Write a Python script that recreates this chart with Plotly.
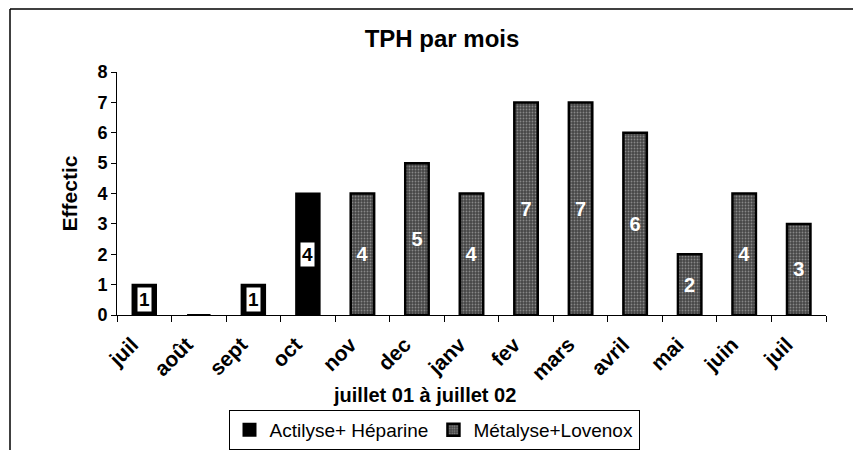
import plotly.graph_objects as go

categories = ["juil01", "août", "sept", "oct", "nov", "dec", "janv", "fev", "mars", "avril", "mai", "juin", "juil02"]
tick_labels = ["juil", "août", "sept", "oct", "nov", "dec", "janv", "fev", "mars", "avril", "mai", "juin", "juil"]
actilyse = [1, 0, 1, 4, None, None, None, None, None, None, None, None, None]
metalyse = [None, None, None, None, 4, 5, 4, 7, 7, 6, 2, 4, 3]

# page has an 8px body margin; work in page pixels and shift
OFF = 8
W, H = 853, 442
L, T = 117 - OFF, 72 - OFF
R = W - (826 - OFF)
B = H - (315 - OFF)
pw, ph = W - L - R, H - T - B

def px_x(px):
    return (px - OFF - L) / pw

def px_y(py):
    return (H - B - (py - OFF)) / ph

fig = go.Figure()
fig.add_trace(go.Bar(
    x=categories, y=actilyse, name="Actilyse+ Héparine",
    marker=dict(color="black", line=dict(color="black", width=2)),
    width=0.43,
))
fig.add_trace(go.Bar(
    x=categories, y=metalyse, name="Métalyse+Lovenox",
    marker=dict(color="#5a5a5a", line=dict(color="black", width=2.5),
                pattern=dict(shape=".", fgcolor="#c8c8c8", bgcolor="#464646", size=3, solidity=0.3)),
    width=0.43,
    text=[str(v) if v is not None else "" for v in metalyse],
    textposition="inside", insidetextanchor="middle",
    textfont=dict(family="Arial", size=20, color="white", weight="bold"),
    textangle=0,
))

annotations = []
for c, v in zip(categories, actilyse):
    if v:
        annotations.append(dict(
            x=c, y=v / 2, xref="x", yref="y", text=f"<b>{v}</b>", showarrow=False,
            bgcolor="white", borderpad=1,
            font=dict(family="Arial", size=19, color="black"),
        ))

annotations.append(dict(
    x=px_x(424), y=px_y(395), xref="paper", yref="paper", text="<b>juillet 01 à juillet 02</b>",
    showarrow=False, xanchor="center", yanchor="middle",
    font=dict(family="Arial", size=20, color="black"),
))

shapes = [
    dict(type="line", xref="paper", yref="paper", x0=px_x(10), x1=px_x(870), y0=px_y(9), y1=px_y(9),
         line=dict(color="black", width=1.5)),
    dict(type="line", xref="paper", yref="paper", x0=px_x(10), x1=px_x(10), y0=px_y(9), y1=px_y(460),
         line=dict(color="black", width=1.5)),
]

fig.update_layout(
    width=W, height=H,
    margin=dict(l=L, r=R, t=T, b=B, autoexpand=False),
    paper_bgcolor="white", plot_bgcolor="white",
    barmode="overlay",
    font=dict(family="Arial", color="black"),
    title=dict(text="<b>TPH par mois</b>", x=(442 - OFF) / W, xanchor="center",
               y=1 - (39 - OFF) / H, yanchor="middle", font=dict(size=24, family="Arial", color="black")),
    showlegend=True,
    legend=dict(orientation="h", x=px_x(434), y=px_y(410), xanchor="center", yanchor="top",
                bordercolor="black", borderwidth=1, bgcolor="white",
                font=dict(family="Arial", size=19, color="black"),
                itemwidth=30, traceorder="normal", tracegroupgap=0),
    annotations=annotations,
    shapes=shapes,
)

fig.update_xaxes(
    type="category", categoryorder="array", categoryarray=categories,
    tickvals=categories, ticktext=[f"<b>{t}</b>" for t in tick_labels],
    tickangle=-45, tickson="boundaries", ticks="outside", ticklen=6, tickcolor="black",
    showline=True, linecolor="black", linewidth=1,
    tickfont=dict(family="Arial", size=21, color="black"),
    ticklabelstandoff=8, ticklabelshift=-12,
    showgrid=False, automargin=False,
)
fig.update_yaxes(
    range=[0, 8], dtick=1, ticks="outside", ticklen=5, tickcolor="black",
    showline=True, linecolor="black", linewidth=1,
    tickfont=dict(family="Arial", size=18, color="black", weight="bold"),
    title=dict(text="<b>Effectic</b>", font=dict(family="Arial", size=21, color="black"), standoff=14),
    showgrid=False, zeroline=False, automargin=False,
)

fig.write_html("out.html")
